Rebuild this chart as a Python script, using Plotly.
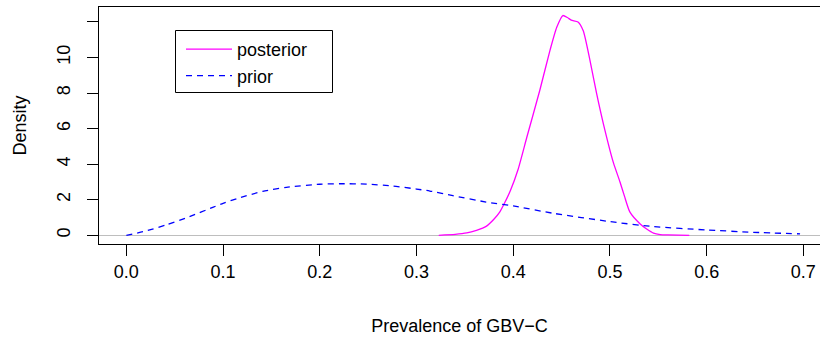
import plotly.graph_objects as go

# Posterior density (magenta, solid)
post_x = [0.323, 0.34, 0.352, 0.362, 0.372, 0.38, 0.386, 0.39, 0.397, 0.405, 0.414,
          0.4275, 0.438, 0.445, 0.4513, 0.456, 0.460, 0.467, 0.4724, 0.4793, 0.4862,
          0.4931, 0.5035, 0.5104, 0.515, 0.5207, 0.531, 0.538, 0.545, 0.552, 0.56, 0.582]
post_y = [0.0, 0.05, 0.13, 0.28, 0.5, 0.9, 1.3, 1.7, 2.5, 3.7, 5.5,
          8.16, 10.4, 11.7, 12.36, 12.25, 12.1, 12.0, 11.5, 9.85, 7.98,
          6.3, 4.1, 3.0, 2.2, 1.3, 0.65, 0.35, 0.12, 0.04, 0.02, 0.0]

# Prior density (blue, dashed)
prior_x = [0.0, 0.0172, 0.041, 0.0652, 0.0893, 0.1, 0.117, 0.141, 0.1655, 0.2,
           0.2207, 0.2483, 0.2759, 0.3, 0.3138, 0.3376, 0.372, 0.4, 0.441, 0.5,
           0.5448, 0.6, 0.648, 0.6966]
prior_y = [0.0, 0.2, 0.58, 1.05, 1.57, 1.80, 2.11, 2.47, 2.70, 2.87,
           2.90, 2.88, 2.77, 2.60, 2.49, 2.23, 1.87, 1.65, 1.24, 0.77,
           0.49, 0.30, 0.17, 0.08]

x_ticks = [0.0, 0.1, 0.2, 0.3, 0.4, 0.5, 0.6, 0.7]
x_tick_labels = ["0.0", "0.1", "0.2", "0.3", "0.4", "0.5", "0.6", "0.7"]
y_ticks = [0, 2, 4, 6, 8, 10, 12]
y_tick_labels = ["0", "2", "4", "6", "8", "10", ""]

FONT = "Liberation Sans, Arial, Helvetica, sans-serif"
FS = 18

# plot area in pixels
L, R, T, B = 99, 0, 7, 95
PW, PH = 820 - L - R, 339 - T - B


def px_x(p):
    return (p - L) / PW


def px_y(p):
    return 1 - (p - T) / PH


fig = go.Figure()
fig.add_trace(go.Scatter(x=post_x, y=post_y, mode="lines", name="posterior",
                         line=dict(color="#FF00FF", width=1.3, shape="spline", smoothing=0.6)))
fig.add_trace(go.Scatter(x=prior_x, y=prior_y, mode="lines", name="prior",
                         line=dict(color="#0000FF", width=1.3, dash="6px,5px",
                                   shape="spline", smoothing=0.6)))

fig.update_layout(
    width=820, height=339,
    margin=dict(l=L, r=R, t=T, b=B),
    paper_bgcolor="white", plot_bgcolor="white",
    font=dict(family=FONT, size=FS, color="black"),
    showlegend=True,
    legend=dict(x=px_x(181), y=px_y(31), xanchor="left", yanchor="top",
                borderwidth=0, bgcolor="rgba(0,0,0,0)",
                font=dict(family=FONT, size=FS, color="black"),
                tracegroupgap=0, itemwidth=46),
    shapes=[dict(type="rect", xref="paper", yref="paper",
                 x0=px_x(175.5), x1=px_x(332.5), y0=px_y(92.5), y1=px_y(30.5),
                 line=dict(color="black", width=1), fillcolor="rgba(0,0,0,0)",
                 layer="above")],
    xaxis=dict(range=[-0.0283, 0.7172], tickvals=x_ticks, ticktext=x_tick_labels,
               showgrid=False, zeroline=False, showline=True, linecolor="black",
               linewidth=1, mirror=True, ticks="outside", ticklen=11, tickcolor="black",
               tickwidth=1, ticklabelstandoff=0,
               title=dict(text="Prevalence of GBV\u2212C", standoff=38,
                          font=dict(family=FONT, size=FS))),
    yaxis=dict(range=[-0.49, 12.84], tickvals=y_ticks, ticktext=y_tick_labels,
               showgrid=False, zeroline=True, zerolinecolor="#BEBEBE", zerolinewidth=1,
               showline=True, linecolor="black", linewidth=1, mirror=False,
               ticks="outside", ticklen=11, tickcolor="black", tickwidth=1,
               tickangle=-90, ticklabelstandoff=10,
               title=dict(text="Density", standoff=22, font=dict(family=FONT, size=FS))),
)

fig.write_html("out.html")
